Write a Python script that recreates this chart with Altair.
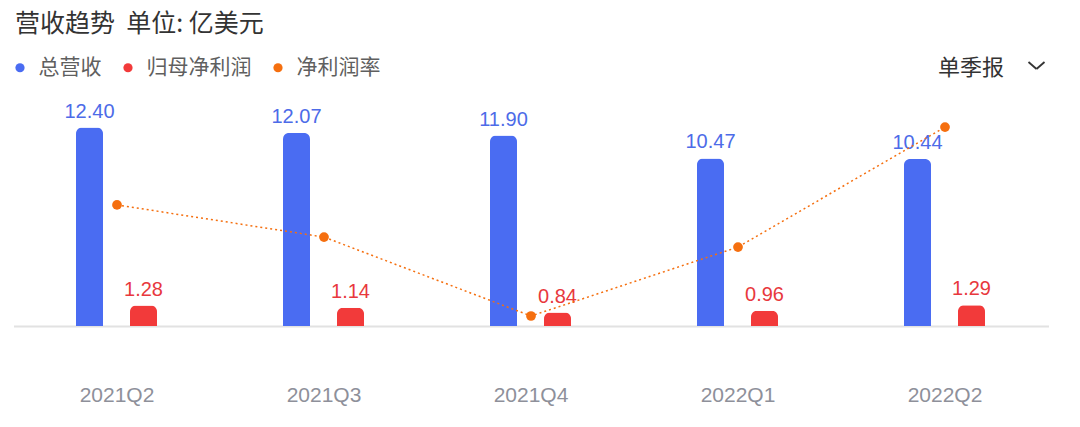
import altair as alt
import pandas as pd

quarters = ["2021Q2", "2021Q3", "2021Q4", "2022Q1", "2022Q2"]
revenue = [12.40, 12.07, 11.90, 10.47, 10.44]
profit = [1.28, 1.14, 0.84, 0.96, 1.29]
margin = [10.27, 9.37, 7.16, 9.09, 12.45]

series_names = ["总营收", "归母净利润", "净利润率"]
series_colors = ["#4a6cf2", "#f23a3a", "#f56f0f"]

df = pd.DataFrame({"quarter": quarters, "revenue": revenue, "profit": profit, "margin": margin})
df["rev_label"] = [f"{v:.2f}" for v in revenue]
df["pro_label"] = [f"{v:.2f}" for v in profit]

W, H = 1035, 230
NUM_FONT = "Liberation Sans"
CJK_FONT = "Noto Sans CJK SC"

base = alt.Chart(df)
xenc = alt.X("quarter:N", sort=quarters,
             scale=alt.Scale(paddingInner=0, paddingOuter=0),
             axis=alt.Axis(title=None, labelAngle=0, ticks=False, tickSize=0,
                           labelPadding=58, labelFontSize=21, labelColor="#8e909a",
                           labelFont=NUM_FONT, domainColor="#e2e2e2", domainWidth=2))
ybar = alt.Scale(domain=[0, 14.375], nice=False, zero=True)

color_scale = alt.Scale(domain=series_names, range=series_colors)
legend = alt.Legend(title=None, orient="none", direction="horizontal",
                    legendX=-4, legendY=-39, symbolType="circle", symbolSize=85,
                    labelFontSize=21, labelFont=CJK_FONT, labelColor="#5f5f5f",
                    labelOffset=8, columnPadding=16, padding=0, symbolStrokeWidth=0)
cenc = alt.Color("s:N", scale=color_scale, legend=legend, sort=series_names)

rev_bar = base.transform_calculate(s="'总营收'").mark_bar(
    width=27, xOffset=-27.5, cornerRadiusTopLeft=6, cornerRadiusTopRight=6).encode(
    x=xenc, y=alt.Y("revenue:Q", scale=ybar, axis=None), color=cenc)
pro_bar = base.transform_calculate(s="'归母净利润'").mark_bar(
    width=27, xOffset=26.5, cornerRadiusTopLeft=6, cornerRadiusTopRight=6).encode(
    x=xenc, y=alt.Y("profit:Q", scale=ybar, axis=None), color=cenc)
rev_txt = base.mark_text(xOffset=-27.5, dy=-10, baseline="alphabetic", fontSize=20,
                         font=NUM_FONT, color="#4d6be8").encode(
    x=xenc, y=alt.Y("revenue:Q", scale=ybar, axis=None), text="rev_label:N")
pro_txt = base.mark_text(xOffset=26.5, dy=-10, baseline="alphabetic", fontSize=20,
                         font=NUM_FONT, color="#e8383d").encode(
    x=xenc, y=alt.Y("profit:Q", scale=ybar, axis=None), text="pro_label:N")

bars = alt.layer(rev_bar, pro_bar, rev_txt, pro_txt)

ym = alt.Scale(domain=[6.88, 13.32], nice=False, zero=False)
line = base.mark_line(strokeDash=[2, 3], strokeWidth=1.5, color="#f56f0f").encode(
    x=xenc, y=alt.Y("margin:Q", scale=ym, axis=None))
pts = base.transform_calculate(s="'净利润率'").mark_circle(size=95, opacity=1).encode(
    x=xenc, y=alt.Y("margin:Q", scale=ym, axis=None), color=cenc)
lines = alt.layer(line, pts)

one = pd.DataFrame({"t": ["营收趋势\u00a0\u00a0单位:\u00a0亿美元"]})
title = alt.Chart(one).mark_text(align="left", baseline="middle", fontSize=25,
                                 font=CJK_FONT, color="#333333").encode(
    text="t:N", x=alt.value(1.5), y=alt.value(-72.5))
sel = alt.Chart(pd.DataFrame({"t": ["单季报"]})).mark_text(
    align="center", baseline="middle", fontSize=22, font=CJK_FONT, color="#333333").encode(
    text="t:N", x=alt.value(957.5), y=alt.value(-28))
chev1 = alt.Chart(pd.DataFrame({"a": [0]})).mark_rule(color="#333333", strokeWidth=1.8).encode(
    x=alt.value(1015), x2=alt.value(1023), y=alt.value(-34), y2=alt.value(-27))
chev2 = alt.Chart(pd.DataFrame({"a": [0]})).mark_rule(color="#333333", strokeWidth=1.8).encode(
    x=alt.value(1023), x2=alt.value(1031), y=alt.value(-27), y2=alt.value(-34))

chart = alt.layer(bars, lines, title, sel, chev1, chev2).resolve_scale(
    y="independent"
).properties(
    width=W, height=H,
    autosize=alt.AutoSizeParams(type="none"),
    padding={"left": 5.5, "top": 88, "right": 23.5, "bottom": 85},
).configure_view(stroke=None)

chart.save("out.html", embed_options={"renderer": "svg", "actions": False})
